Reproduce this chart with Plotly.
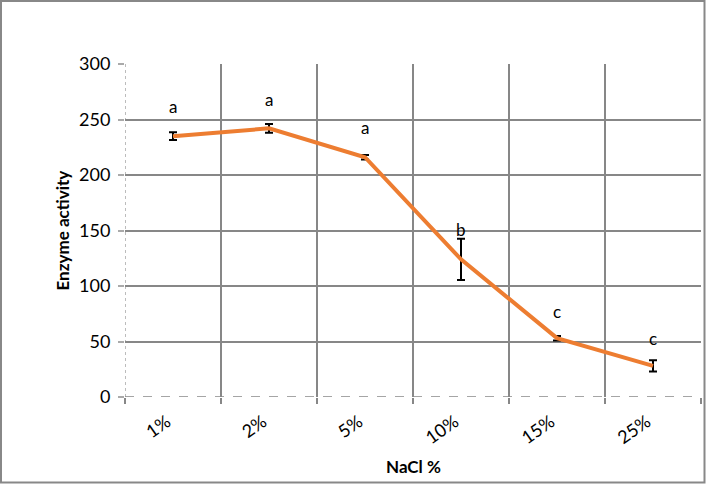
import plotly.graph_objects as go

categories = ["1%", "2%", "5%", "10%", "15%", "25%"]
activity = [235, 242, 216, 124, 53, 28]
err = [3.5, 4, 2, 18.5, 2, 5]
letters = ["a", "a", "a", "b", "c", "c"]
letter_y = [262, 268, 243, 151, 77, 53]
y_ticks = [0, 50, 100, 150, 200, 250, 300]

FONT = "Lato"
GRID = "#878787"

fig = go.Figure()
fig.add_trace(go.Scatter(
    x=categories, y=activity, mode="lines",
    line=dict(color="#ED7D31", width=4),
    error_y=dict(type="data", array=err, visible=True, color="black", thickness=2, width=4),
    showlegend=False, hoverinfo="skip",
))

for c, t, ly in zip(categories, letters, letter_y):
    fig.add_annotation(x=c, y=ly, text=t, showarrow=False,
                       font=dict(family=FONT, size=17, color="black"))

# cover solid left gridline and y=0 gridline, then draw dotted/dashed axes
fig.add_shape(type="line", xref="x", yref="paper", x0=-0.5, x1=-0.5, y0=0, y1=1,
              line=dict(color="white", width=3), layer="between")
fig.add_shape(type="line", xref="paper", yref="y", x0=0, x1=1, y0=0, y1=0,
              line=dict(color="white", width=3), layer="between")
fig.add_shape(type="line", xref="x", yref="paper", x0=-0.5, x1=-0.5, y0=0, y1=1,
              line=dict(color="#A6A6A6", width=1.5, dash="dot"), layer="between")
fig.add_shape(type="line", xref="paper", yref="y", x0=0, x1=1, y0=0, y1=0,
              line=dict(color="#888888", width=1.5, dash="dash"), layer="between")

# figure border
fig.add_shape(type="rect", xref="paper", yref="paper",
              x0=(1 - 125) / 576, x1=(704.5 - 125) / 576,
              y0=(397 - 482.5) / 333, y1=(397 - 1) / 333,
              line=dict(color="#888888", width=2))

fig.add_annotation(xref="paper", yref="paper", x=(62 - 125) / 576, y=0.5,
                   xanchor="center", yanchor="middle",
                   text="<b>Enzyme activity</b>", textangle=-90, showarrow=False,
                   font=dict(family=FONT, size=17, color="black"))
fig.add_annotation(xref="paper", yref="paper", x=(413 - 125) / 576, y=(397 - 466) / 333,
                   xanchor="center", yanchor="middle",
                   text="<b>NaCl %</b>", showarrow=False,
                   font=dict(family=FONT, size=17, color="black"))

fig.update_xaxes(
    type="category", tickson="boundaries", range=[-0.5, 5.5],
    showgrid=True, gridcolor=GRID, gridwidth=2,
    ticks="outside", ticklen=6, tickcolor=GRID, tickwidth=1.5,
    tickangle=-35, tickfont=dict(family=FONT, size=18, color="black"),
    showline=False, zeroline=False, ticklabelstandoff=10, ticklabelshift=-6,
)
fig.update_yaxes(
    range=[0, 300], tickvals=y_ticks, ticktext=[str(v) for v in y_ticks],
    showgrid=True, gridcolor=GRID, gridwidth=2,
    ticks="outside", ticklen=6, tickcolor="#AAAAAA", tickwidth=1.5,
    tickfont=dict(family=FONT, size=18, color="black"),
    showline=False, zeroline=False, ticklabelstandoff=4,
)

fig.update_layout(
    width=706, height=484,
    margin=dict(l=125, r=5, t=64, b=87),
    paper_bgcolor="white", plot_bgcolor="white",
    font=dict(family=FONT),
)

fig.write_html("out.html")
